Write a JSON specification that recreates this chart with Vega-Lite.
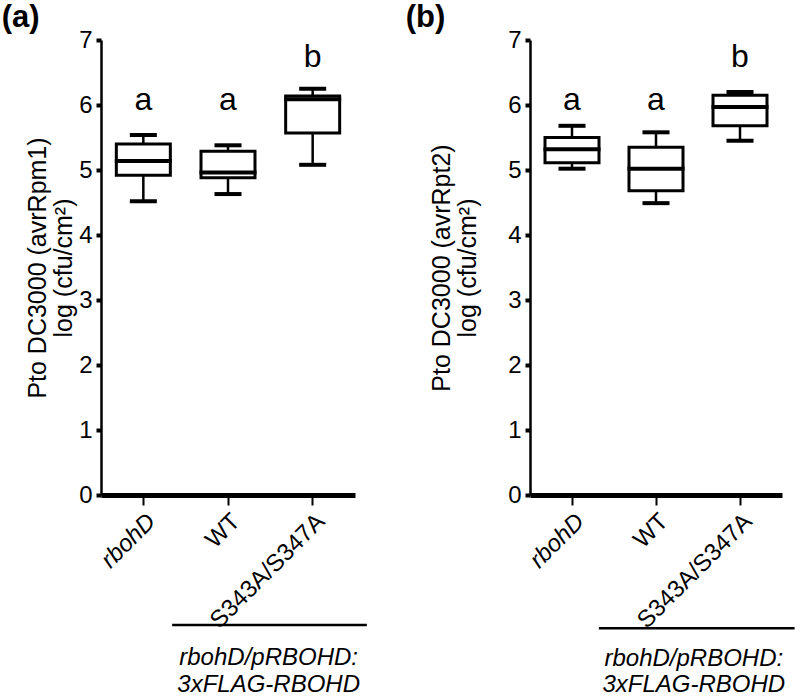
{
  "$schema": "https://vega.github.io/schema/vega-lite/v6.json",
  "background": "white",
  "padding": {"left": 1, "top": 2, "right": 2, "bottom": 2},
  "datasets": {
    "boxes": [
      {"panel": "a", "group": "rbohD", "low": 4.52, "q1": 4.92, "median": 5.14, "q3": 5.40, "high": 5.54, "letter": "a", "letter_y": 5.92},
      {"panel": "a", "group": "WT", "low": 4.63, "q1": 4.88, "median": 4.96, "q3": 5.29, "high": 5.38, "letter": "a", "letter_y": 5.92},
      {"panel": "a", "group": "S343A/S347A", "low": 5.08, "q1": 5.57, "median": 6.09, "q3": 6.14, "high": 6.25, "letter": "b", "letter_y": 6.58},
      {"panel": "b", "group": "rbohD", "low": 5.02, "q1": 5.11, "median": 5.32, "q3": 5.50, "high": 5.68, "letter": "a", "letter_y": 5.92},
      {"panel": "b", "group": "WT", "low": 4.49, "q1": 4.68, "median": 5.02, "q3": 5.35, "high": 5.58, "letter": "a", "letter_y": 5.92},
      {"panel": "b", "group": "S343A/S347A", "low": 5.45, "q1": 5.68, "median": 5.97, "q3": 6.15, "high": 6.20, "letter": "b", "letter_y": 6.58}
    ]
  },
  "config": {
    "view": {"stroke": null},
    "font": "Liberation Sans",
    "title": {"font": "Liberation Sans", "fontSize": 31, "fontWeight": "bold", "anchor": "start", "frame": "bounds", "color": "black", "offset": -6, "dx": -24},
    "axis": {"grid": false, "labelFont": "Liberation Sans", "titleFont": "Liberation Sans", "labelColor": "black", "titleColor": "black", "domainColor": "black", "tickColor": "black"}
  },
  "spacing": 36,
  "hconcat": [
    {
      "title": {"text": "(a)"},
      "width": 254,
      "height": 455,
      "layer": [
        {
          "data": {"name": "boxes"},
          "transform": [{"filter": "datum.panel == 'a'"}],
          "encoding": {
            "x": {
              "field": "group", "type": "nominal", "sort": ["rbohD", "WT", "S343A/S347A"],
              "scale": {"paddingInner": 0, "paddingOuter": 0},
              "axis": {"title": null, "labelAngle": -45, "labelFontSize": 24, "labelFontStyle": {"condition": {"test": "datum.value == 'rbohD'", "value": "italic"}, "value": "normal"}, "domainWidth": 5, "tickSize": 10, "tickWidth": 2, "labelPadding": 4}
            }
          },
          "layer": [
            {
              "mark": {"type": "rule", "strokeWidth": 2.5, "color": "black"},
              "encoding": {
                "y": {"field": "low", "type": "quantitative", "scale": {"domain": [0, 7], "nice": false},
                  "axis": {"title": ["Pto DC3000 (avrRpm1)", "log (cfu/cm²)"], "titleFontSize": 25, "titleFontWeight": "normal", "titleLineHeight": 26, "titlePadding": 2, "labelFontSize": 24, "labelPadding": 4, "format": "d", "values": [0, 1, 2, 3, 4, 5, 6, 7], "domainWidth": 2.5, "tickSize": 5, "tickWidth": 4}},
                "y2": {"field": "high"}
              }
            },
            {
              "mark": {"type": "bar", "size": 54, "fill": "white", "stroke": "black", "strokeWidth": 3},
              "encoding": {"y": {"field": "q1", "type": "quantitative"}, "y2": {"field": "q3"}}
            },
            {
              "mark": {"type": "tick", "size": 57, "thickness": 4, "color": "black", "opacity": 1},
              "encoding": {"y": {"field": "median", "type": "quantitative"}}
            },
            {
              "mark": {"type": "tick", "size": 27, "thickness": 4, "color": "black", "opacity": 1},
              "encoding": {"y": {"field": "low", "type": "quantitative"}}
            },
            {
              "mark": {"type": "tick", "size": 27, "thickness": 4, "color": "black", "opacity": 1},
              "encoding": {"y": {"field": "high", "type": "quantitative"}}
            },
            {
              "mark": {"type": "text", "fontSize": 32, "baseline": "alphabetic", "align": "center", "color": "black"},
              "encoding": {"y": {"field": "letter_y", "type": "quantitative"}, "text": {"field": "letter"}}
            }
          ]
        },
        {
          "data": {"values": [{}]},
          "mark": {"type": "rule", "strokeWidth": 2.5, "color": "black"},
          "encoding": {
            "x": {"datum": 0.84, "type": "quantitative", "scale": {"domain": [0, 3]}, "axis": null},
            "x2": {"datum": 3.14},
            "y": {"datum": -2.0, "type": "quantitative"}
          }
        },
        {
          "data": {"values": [{}]},
          "mark": {"type": "text", "text": ["rbohD/pRBOHD:", "3xFLAG-RBOHD"], "fontStyle": "italic", "fontSize": 24, "lineHeight": 27, "baseline": "top", "align": "center", "color": "black"},
          "encoding": {
            "x": {"datum": 1.98, "type": "quantitative", "scale": {"domain": [0, 3]}, "axis": null},
            "y": {"datum": -2.33, "type": "quantitative"}
          }
        }
      ],
      "resolve": {"scale": {"x": "independent"}, "axis": {"x": "independent"}}
    },
    {
      "title": {"text": "(b)"},
      "width": 252,
      "height": 455,
      "layer": [
        {
          "data": {"name": "boxes"},
          "transform": [{"filter": "datum.panel == 'b'"}],
          "encoding": {
            "x": {
              "field": "group", "type": "nominal", "sort": ["rbohD", "WT", "S343A/S347A"],
              "scale": {"paddingInner": 0, "paddingOuter": 0},
              "axis": {"title": null, "labelAngle": -45, "labelFontSize": 24, "labelFontStyle": {"condition": {"test": "datum.value == 'rbohD'", "value": "italic"}, "value": "normal"}, "domainWidth": 5, "tickSize": 10, "tickWidth": 2, "labelPadding": 4}
            }
          },
          "layer": [
            {
              "mark": {"type": "rule", "strokeWidth": 2.5, "color": "black"},
              "encoding": {
                "y": {"field": "low", "type": "quantitative", "scale": {"domain": [0, 7], "nice": false},
                  "axis": {"title": ["Pto DC3000 (avrRpt2)", "log (cfu/cm²)"], "titleFontSize": 25, "titleFontWeight": "normal", "titleLineHeight": 26, "titlePadding": 27, "labelFontSize": 24, "labelPadding": 4, "format": "d", "values": [0, 1, 2, 3, 4, 5, 6, 7], "domainWidth": 2.5, "tickSize": 5, "tickWidth": 4}},
                "y2": {"field": "high"}
              }
            },
            {
              "mark": {"type": "bar", "size": 54, "fill": "white", "stroke": "black", "strokeWidth": 3},
              "encoding": {"y": {"field": "q1", "type": "quantitative"}, "y2": {"field": "q3"}}
            },
            {
              "mark": {"type": "tick", "size": 57, "thickness": 4, "color": "black", "opacity": 1},
              "encoding": {"y": {"field": "median", "type": "quantitative"}}
            },
            {
              "mark": {"type": "tick", "size": 27, "thickness": 4, "color": "black", "opacity": 1},
              "encoding": {"y": {"field": "low", "type": "quantitative"}}
            },
            {
              "mark": {"type": "tick", "size": 27, "thickness": 4, "color": "black", "opacity": 1},
              "encoding": {"y": {"field": "high", "type": "quantitative"}}
            },
            {
              "mark": {"type": "text", "fontSize": 32, "baseline": "alphabetic", "align": "center", "color": "black"},
              "encoding": {"y": {"field": "letter_y", "type": "quantitative"}, "text": {"field": "letter"}}
            }
          ]
        },
        {
          "data": {"values": [{}]},
          "mark": {"type": "rule", "strokeWidth": 2.5, "color": "black"},
          "encoding": {
            "x": {"datum": 0.82, "type": "quantitative", "scale": {"domain": [0, 3]}, "axis": null},
            "x2": {"datum": 3.15},
            "y": {"datum": -2.05, "type": "quantitative"}
          }
        },
        {
          "data": {"values": [{}]},
          "mark": {"type": "text", "text": ["rbohD/pRBOHD:", "3xFLAG-RBOHD"], "fontStyle": "italic", "fontSize": 24, "lineHeight": 26, "baseline": "top", "align": "center", "color": "black"},
          "encoding": {
            "x": {"datum": 1.95, "type": "quantitative", "scale": {"domain": [0, 3]}, "axis": null},
            "y": {"datum": -2.34, "type": "quantitative"}
          }
        }
      ],
      "resolve": {"scale": {"x": "independent"}, "axis": {"x": "independent"}}
    }
  ]
}
